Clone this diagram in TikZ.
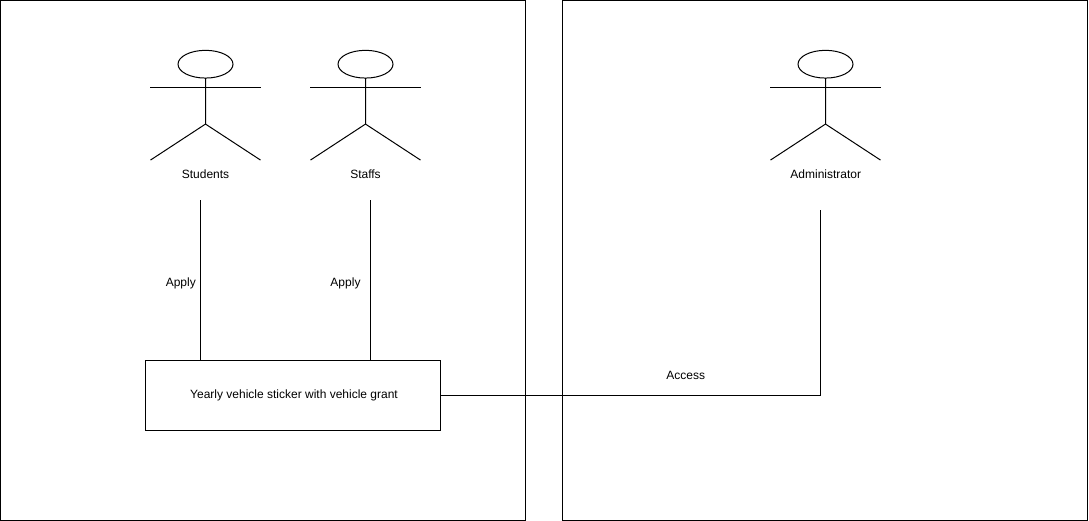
\documentclass[tikz,border=0pt]{standalone}
\usepackage{fontspec}
\setmainfont{Liberation Sans}
\usetikzlibrary{shapes.geometric,positioning,calc}

\begin{document}
\begin{tikzpicture}[
    x=0.75pt, y=-0.75pt,
    frame/.style={draw, line width=0.75pt, minimum width=393.75pt, minimum height=390pt, inner sep=0pt, outer sep=0pt},
    head/.style={draw, ellipse, line width=0.75pt, minimum width=41.25pt, minimum height=20.8pt, inner sep=0pt, outer sep=0pt},
    sticker/.style={draw, line width=0.75pt, minimum width=221.25pt, minimum height=52.5pt, inner sep=0pt, outer sep=0pt, font=\fontsize{9}{11}\selectfont},
    lbl/.style={inner sep=0pt, font=\fontsize{9}{11}\selectfont},
    stick/.style={line width=0.75pt},
    conn/.style={line width=0.75pt},
]
\useasboundingbox (0,0) rectangle (1089,521);
% Frames
\node[frame] (userframe) at (263,260.5) {};
\node[frame] (adminframe) at (825.2,260.5) {};
% Actors
\node[head] (studenthead) at (205.5,64.2) {};
\node[head] (staffhead) at (365.5,64.2) {};
\node[head] (adminhead) at (825.5,64.2) {};
\draw[stick] (studenthead.south) -- ++(0,46) coordinate (studenthip) -- ++(-55,36);
\draw[stick] (studenthip) -- ++(55,36);
\draw[stick] ($(studenthead.south)+(-55.5,9)$) -- ++(111,0);
\draw[stick] (staffhead.south) -- ++(0,46) coordinate (staffhip) -- ++(-55,36);
\draw[stick] (staffhip) -- ++(55,36);
\draw[stick] ($(staffhead.south)+(-55.5,9)$) -- ++(111,0);
\draw[stick] (adminhead.south) -- ++(0,46) coordinate (adminhip) -- ++(-55,36);
\draw[stick] (adminhip) -- ++(55,36);
\draw[stick] ($(adminhead.south)+(-55.5,9)$) -- ++(111,0);
% Labels
\node[lbl] (studentlbl) at (205.5,174) {Students};
\node[lbl] (stafflbl) at (365.5,174) {Staffs};
\node[lbl] (adminlbl) at (825.8,174) {Administrator};
% Sticker box
\node[sticker] (grant) at (293,395.5) {\hspace{1.5pt}Yearly vehicle sticker with vehicle grant};
% Connectors
\coordinate (studenttop) at (200.5,200);
\coordinate (stafftop) at (370.5,200);
\coordinate (admintop) at (820.8,210);
\draw[conn] (studenttop) -- (studenttop |- grant.north);
\draw[conn] (stafftop) -- (stafftop |- grant.north);
\draw[conn] (admintop) |- (grant.east);
\node[lbl] (applya) at (180.8,283.5) {Apply};
\node[lbl] (applyb) at (345.5,283.5) {Apply};
\node[lbl] (access) at (685.8,375) {Access};
\end{tikzpicture}
\end{document}
